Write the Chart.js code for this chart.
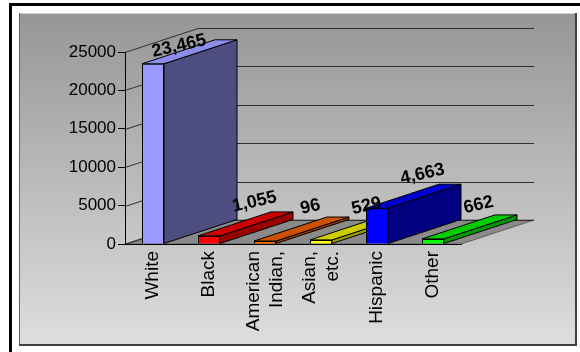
<!DOCTYPE html>
<html><head><meta charset="utf-8">
<script src="https://cdn.jsdelivr.net/npm/chart.js@4.4.0/dist/chart.umd.min.js"></script>
<style>html,body{margin:0;padding:0;background:#fff;}canvas{display:block;}</style>
</head><body>
<canvas id="c" width="580" height="352"></canvas>
<script>
const categories = [['White'], ['Black'], ['American', 'Indian,'], ['Asian,', 'etc.'], ['Hispanic'], ['Other']];
const populations = [23465, 1055, 96, 529, 4663, 662];
const yTicks = [0, 5000, 10000, 15000, 20000, 25000];
const frontColors = ['#9999FF', '#FF0000', '#FF6600', '#FFFF00', '#0000FF', '#00FF00'];
const sideColors = ['#4D4D80', '#990000', '#993D00', '#999900', '#000080', '#009900'];
const topColors = ['#8C8CEB', '#CC0000', '#CC5200', '#CCCC00', '#0000CC', '#00CC00'];

const FONT = "'Liberation Sans', Arial, Helvetica, sans-serif";
const DX = 73, DY = -24;

function poly(ctx, pts, fill) {
  ctx.beginPath();
  pts.forEach((p, k) => k ? ctx.lineTo(p[0], p[1]) : ctx.moveTo(p[0], p[1]));
  ctx.closePath();
  ctx.fillStyle = fill; ctx.fill();
  ctx.stroke();
}
function fmt(v) { return v.toLocaleString('en-US'); }

const threeD = {
  id: 'threeD',
  beforeDraw(chart) {
    const ctx = chart.ctx;
    const {left, right} = chart.chartArea;
    const ys = chart.scales.y;
    ctx.save();
    ctx.fillStyle = '#fff'; ctx.fillRect(0, 0, chart.width, chart.height);
    ctx.fillStyle = '#000';
    ctx.fillRect(9, 3, chart.width - 9, 3);
    ctx.fillRect(9, 3, 3, chart.height - 3);
    const g = ctx.createLinearGradient(0, 13, 0, 345);
    g.addColorStop(0, '#969696'); g.addColorStop(1, '#dedede');
    ctx.fillStyle = g; ctx.fillRect(19, 13, 557, 332);
    ctx.fillStyle = '#d0d0d0'; ctx.fillRect(19, 13, 557, 1);
    ctx.fillStyle = '#606060'; ctx.fillRect(19, 13, 1, 332);
    ctx.fillStyle = '#404040'; ctx.fillRect(575, 13, 2, 333); ctx.fillRect(19, 344, 558, 2);

    ctx.lineWidth = 1;
    const y0 = ys.getPixelForValue(0);
    ctx.strokeStyle = '#606060';
    poly(ctx, [[left, y0], [right, y0], [right + DX, y0 + DY], [left + DX, y0 + DY]], '#8a8a8a');
    ctx.strokeStyle = '#303030';
    yTicks.forEach(v => {
      const y = Math.round(ys.getPixelForValue(v)) + 0.5;
      ctx.beginPath();
      ctx.moveTo(left, y); ctx.lineTo(left + DX, y + DY); ctx.lineTo(right + DX, y + DY);
      ctx.stroke();
    });
    ctx.restore();
  },
  afterDatasetsDraw(chart) {
    const ctx = chart.ctx;
    const meta = chart.getDatasetMeta(0);
    const ys = chart.scales.y, xs = chart.scales.x;
    const y0 = ys.getPixelForValue(0);
    ctx.save();
    ctx.lineWidth = 1; ctx.strokeStyle = '#000'; ctx.lineJoin = 'miter';
    meta.data.forEach((bar, i) => {
      const p = bar.getProps(['x', 'y', 'base', 'width'], true);
      const l = p.x - p.width / 2, r = p.x + p.width / 2;
      poly(ctx, [[r, p.y], [r + DX, p.y + DY], [r + DX, p.base + DY], [r, p.base]], sideColors[i]);
      poly(ctx, [[l, p.y], [r, p.y], [r + DX, p.y + DY], [l + DX, p.y + DY]], topColors[i]);
      bar.draw(ctx);
    });
    // value labels
    ctx.font = 'bold 18px ' + FONT; ctx.fillStyle = '#000';
    ctx.textAlign = 'center'; ctx.textBaseline = 'middle';
    const minY = chart.chartArea.top - 6;
    meta.data.forEach((bar, i) => {
      let lx = bar.x + DX / 2 + 9, ly = bar.y + DY / 2 - 22;
      if (ly < minY) { lx -= (minY - ly) * 1.2; ly = minY; }
      ctx.save(); ctx.translate(lx, ly); ctx.rotate(-13 * Math.PI / 180);
      ctx.fillText(fmt(populations[i]), 0, 0); ctx.restore();
    });
    // category labels
    ctx.font = '19px ' + FONT; ctx.textAlign = 'right'; ctx.textBaseline = 'middle';
    const LH = 23;
    categories.forEach((lines, i) => {
      const px = xs.getPixelForValue(i);
      lines.forEach((t, j) => {
        const cx = px + (j - (lines.length - 1) / 2) * LH;
        ctx.save(); ctx.translate(cx, y0 + 7); ctx.rotate(-Math.PI / 2);
        ctx.fillText(t, 0, 0); ctx.restore();
      });
    });
    ctx.restore();
  }
};

new Chart(document.getElementById('c'), {
  type: 'bar',
  data: {
    labels: categories,
    datasets: [{
      data: populations,
      backgroundColor: frontColors,
      borderColor: '#000',
      borderWidth: 1,
      barPercentage: 22 / 56,
      categoryPercentage: 1,
      minBarLength: 3
    }]
  },
  options: {
    responsive: false, animation: false, devicePixelRatio: 1,
    layout: {padding: {left: 0, right: 119, top: 52, bottom: 8}},
    plugins: {legend: {display: false}, tooltip: {enabled: false}},
    scales: {
      x: {
        ticks: {display: false},
        grid: {display: false, drawTicks: false},
        border: {display: true, color: '#000', width: 1},
        afterFit(s) { s.height = 100; }
      },
      y: {
        min: 0, max: 25000,
        afterBuildTicks(s) { s.ticks = yTicks.map(v => ({value: v})); },
        ticks: {color: '#000', font: {family: FONT, size: 17}, padding: 2, callback: v => String(v)},
        grid: {drawOnChartArea: false, drawTicks: true, tickLength: 7, color: '#000'},
        border: {display: true, color: '#000', width: 1},
        afterFit(s) { s.width = 125; }
      }
    }
  },
  plugins: [threeD]
});
</script>
</body></html>
